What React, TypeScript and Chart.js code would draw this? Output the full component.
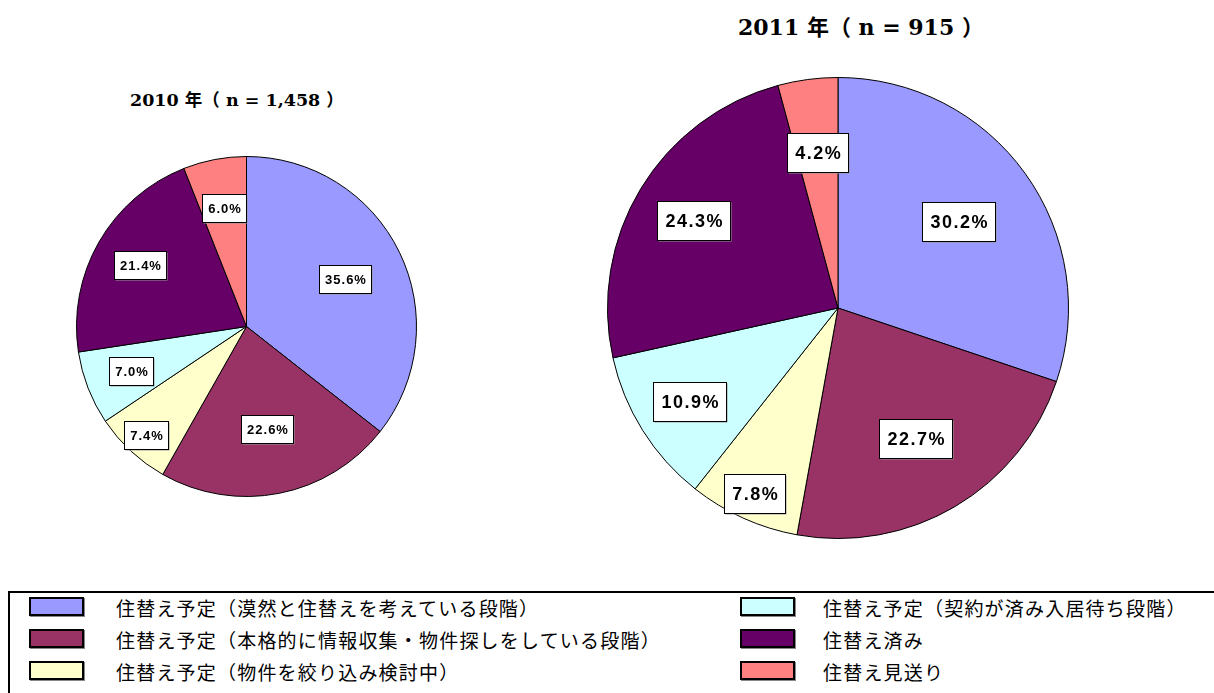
import React, { useEffect, useRef } from "react";
import { Chart, registerables } from "chart.js";

Chart.register(...registerables);

// ---- data ----
const categories = [
  "住替え予定（漠然と住替えを考えている段階）",
  "住替え予定（本格的に情報収集・物件探しをしている段階）",
  "住替え予定（物件を絞り込み検討中）",
  "住替え予定（契約が済み入居待ち段階）",
  "住替え済み",
  "住替え見送り",
];
const values2010 = [35.6, 22.6, 7.4, 7.0, 21.4, 6.0];
const values2011 = [30.2, 22.7, 7.8, 10.9, 24.3, 4.2];
const colors = ["#9999FF", "#993366", "#FFFFCC", "#CCFFFF", "#660066", "#FF8080"];
const title2010 = "2010 年（ n = 1,458 ）";
const title2011 = "2011 年（ n = 915 ）";

// ---- label plugin ----
const boxLabelPlugin = {
  id: "boxLabels",
  afterDatasetsDraw(chart: any, _args: any, opts: any) {
    const ctx = chart.ctx as CanvasRenderingContext2D;
    const meta = chart.getDatasetMeta(0);
    const data = chart.data.datasets[0].data as number[];
    ctx.save();
    ctx.font = `bold ${opts.fontSize}px "Liberation Sans", Arial, sans-serif`;
    (ctx as any).letterSpacing = opts.letterSpacing + "px";
    meta.data.forEach((arc: any, i: number) => {
      const p = arc.getProps(["x", "y", "startAngle", "endAngle", "outerRadius"], true);
      const mid = (p.startAngle + p.endAngle) / 2;
      const r = p.outerRadius * opts.factors[i];
      const cx = p.x + Math.cos(mid) * r;
      const cy = p.y + Math.sin(mid) * r;
      const text = data[i].toFixed(1) + "%";
      const tw = ctx.measureText(text).width;
      const w = Math.round(tw + opts.padX * 2);
      const h = opts.boxH;
      const bx = Math.round(cx - w / 2) + 0.5;
      const by = Math.round(cy - h / 2) + 0.5;
      ctx.fillStyle = "#9a9a9a";
      ctx.fillRect(bx + 1, by + 1, w, h);
      ctx.fillStyle = "#ffffff";
      ctx.fillRect(bx, by, w, h);
      ctx.strokeStyle = "#000000";
      ctx.lineWidth = 1;
      ctx.strokeRect(bx, by, w, h);
      ctx.fillStyle = "#000000";
      ctx.textAlign = "center";
      ctx.textBaseline = "middle";
      ctx.fillText(text, bx + w / 2 + opts.letterSpacing / 2, by + h / 2 + 1);
    });
    ctx.restore();
  },
};

type PieProps = {
  values: number[];
  size: number;
  factors: number[];
  fontSize: number;
  padX: number;
  boxH: number;
  letterSpacing: number;
};

function PieChart({ values, size, factors, fontSize, padX, boxH, letterSpacing }: PieProps) {
  const ref = useRef<HTMLCanvasElement>(null);
  useEffect(() => {
    const chart = new Chart(ref.current as HTMLCanvasElement, {
      type: "pie",
      data: {
        labels: categories,
        datasets: [
          {
            data: values,
            backgroundColor: colors,
            borderColor: "#000000",
            borderWidth: 1,
          },
        ],
      },
      options: {
        responsive: false,
        animation: false,
        layout: { padding: 0 },
        plugins: {
          legend: { display: false },
          tooltip: { enabled: false },
          title: { display: false },
          boxLabels: { factors, fontSize, padX, boxH, letterSpacing },
        } as any,
      },
      plugins: [boxLabelPlugin as any],
    });
    return () => chart.destroy();
  }, []);
  return (
    <canvas
      ref={ref}
      width={size}
      height={size}
      style={{ width: size, height: size, display: "block" }}
    />
  );
}

const legendFont = '"Noto Sans CJK JP", "Noto Sans", sans-serif';
const titleFont = '"DejaVu Serif", "Noto Sans CJK JP", serif';

function LegendItem({ i, x, y, textX }: { i: number; x: number; y: number; textX: number }) {
  return (
    <>
      <div
        style={{
          position: "absolute",
          left: x,
          top: y,
          width: 51,
          height: 15,
          background: colors[i],
          border: "2px solid #000",
          boxShadow: "1px 1px 0 #888",
        }}
      />
      <div
        style={{
          position: "absolute",
          left: textX,
          top: y - 3,
          fontFamily: legendFont,
          fontSize: 19,
          letterSpacing: "1.2px",
          lineHeight: "27px",
          whiteSpace: "nowrap",
          color: "#000",
        }}
      >
        {categories[i]}
      </div>
    </>
  );
}

export default function App() {
  const rowsY = [597, 629, 661];
  return (
    <div
      style={{
        position: "absolute",
        left: 0,
        top: 0,
        width: 1214,
        height: 693,
        overflow: "hidden",
        background: "#fff",
      }}
    >
      <div
        style={{
          position: "absolute",
          left: 130,
          top: 87,
          fontFamily: titleFont,
          fontWeight: "bold",
          fontSize: 17.5,
          lineHeight: "26px",
          whiteSpace: "nowrap",
        }}
      >
        {title2010}
      </div>
      <div
        style={{
          position: "absolute",
          left: 738,
          top: 11,
          fontFamily: titleFont,
          fontWeight: "bold",
          fontSize: 22,
          lineHeight: "32px",
          whiteSpace: "nowrap",
        }}
      >
        {title2011}
      </div>

      <div style={{ position: "absolute", left: 76, top: 156 }}>
        <PieChart
          values={values2010}
          size={341}
          factors={[0.643, 0.615, 0.87, 0.73, 0.725, 0.71]}
          fontSize={13}
          padX={5}
          boxH={28}
          letterSpacing={1}
        />
      </div>
      <div style={{ position: "absolute", left: 607, top: 77 }}>
        <PieChart
          values={values2011}
          size={462}
          factors={[0.644, 0.658, 0.885, 0.763, 0.735, 0.68]}
          fontSize={18}
          padX={7}
          boxH={39}
          letterSpacing={1.5}
        />
      </div>

      <div
        style={{
          position: "absolute",
          left: 8,
          top: 591,
          width: 1230,
          height: 120,
          border: "2px solid #000",
          boxSizing: "border-box",
        }}
      />
      {rowsY.map((y, r) => (
        <LegendItem key={"a" + r} i={r} x={29} y={y} textX={116} />
      ))}
      {rowsY.map((y, r) => (
        <LegendItem key={"b" + r} i={r + 3} x={740} y={y} textX={823} />
      ))}
    </div>
  );
}
